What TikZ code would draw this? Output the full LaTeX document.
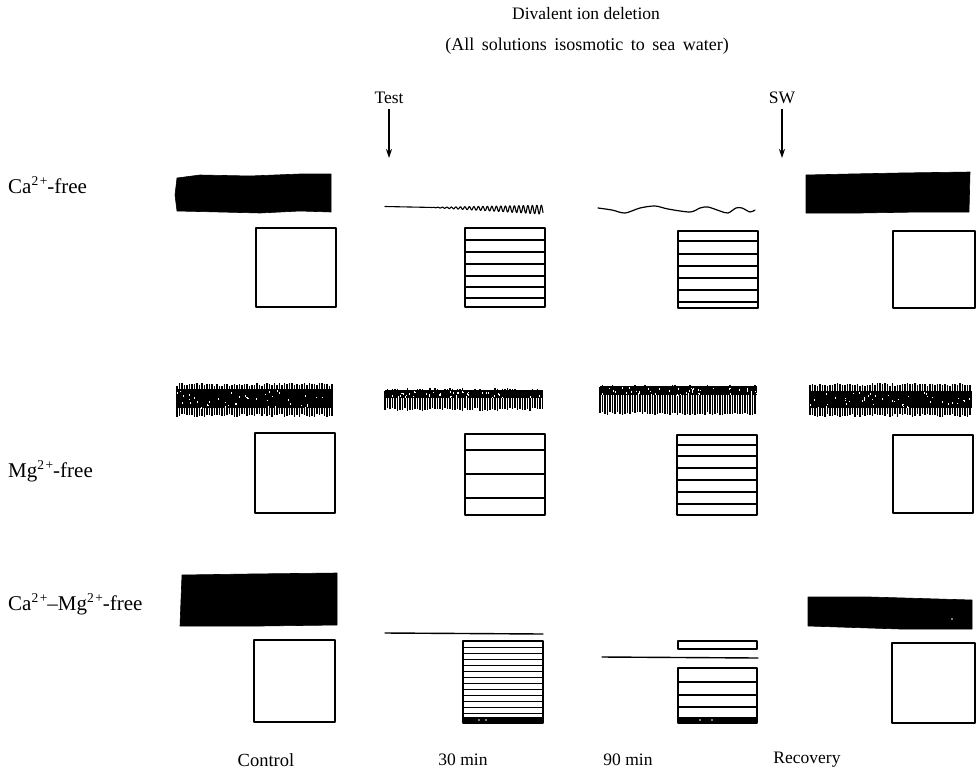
\documentclass[tikz,border=0pt]{standalone}
\usepackage{fontspec}
\setmainfont{Liberation Serif}
\usetikzlibrary{arrows.meta}
\newcommand\hatchtrace[6]{%
  \fill (#1,#5) rectangle (#2,#6);
  \pgfmathsetmacro\hxs{#1+2.5}
  \foreach \xx in {#1,\hxs,...,#2}{
    \pgfmathsetmacro\ta{#3+3*rnd}
    \pgfmathsetmacro\tb{#4-3*rnd}
    \draw[line width=1.2pt] (\xx,\ta) -- (\xx,\tb);
  }%
  \foreach \k in {1,...,45}{
    \pgfmathsetmacro\fx{#1+(#2-#1)*rnd}
    \pgfmathsetmacro\fy{#5+1+(#6-#5-2)*rnd}
    \fill[white] (\fx,\fy) rectangle ++(0.9,1.6);
  }%
}
\newcommand\ionc{\raisebox{0.4em}{\fontsize{13.5}{13.5}\selectfont 2\kern1.5pt+}}
\begin{document}
\begin{tikzpicture}[x=1pt,y=-1pt,
  lbl/.style={font=\fontsize{17.5}{20}\selectfont, inner sep=0pt},
  rowlbl/.style={font=\fontsize{21}{24}\selectfont, inner sep=0pt, anchor=west},
  frame/.style={line width=1.8pt, line join=round},
  bar/.style={line width=1.2pt},
  thinbar/.style={line width=1pt},
  ink/.style={fill=black, draw=black, line width=0.6pt, line join=round},
  tracel/.style={line width=1.2pt, line cap=round, line join=round},
  arr/.style={line width=1.2pt, -{Stealth[length=9pt,width=6pt]}}
]
\useasboundingbox (0,0) rectangle (977,777);
\pgfmathsetseed{7}

% titles
\node[lbl] (title) at (586,14) {Divalent ion deletion};
\node[lbl, font=\fontsize{18}{20}\selectfont] (sub) at (587,46) {\spaceskip=7.5pt\relax(All solutions isosmotic to sea water)};
\node[lbl] (test) at (389,98) {Test};
\node[lbl] (sw) at (782,98) {SW};
\coordinate (testend) at (389,158);
\coordinate (swend) at (782,158);
\draw[arr] ([yshift=-5pt]test.south) -- (testend);
\draw[arr] ([yshift=-5pt]sw.south) -- (swend);

% row labels
\node[rowlbl] (rca) at (8,185) {Ca\ionc-free};
\node[rowlbl] (rmg) at (8,471) {Mg\ionc-free};
\node[rowlbl] (rcamg) at (8,604) {Ca\ionc--Mg\ionc-free};

% column labels
\node[lbl, font=\fontsize{18.5}{20}\selectfont] (ccontrol) at (266,760) {Control};
\node[lbl] (c30) at (463,760) {30 min};
\node[lbl] (c90) at (628,760) {90 min};
\node[lbl] (crec) at (807,760) {Recovery};

%================ Row 1: Ca-free
\draw[ink] (177,178) -- (200,175) -- (250,176) -- (300,174) -- (331,174) -- (331,212) -- (300,211) -- (260,213) -- (220,212) -- (177,211) -- (175,195) -- cycle;
\draw[frame] (256,228) rectangle (336,307);

\draw[tracel, line width=1.1pt] plot[domain=0:158, samples=500]
  ({385+\x}, {206.5+\x*0.02 + max(0,\x-45)/113*4.5*sin(80*\x)});
\draw[frame] (465,228) rectangle (545,307);
\foreach \yy in {240,252,264,276,287,298} \draw[bar] (465,\yy) -- (545,\yy);

\draw[tracel] plot[smooth] coordinates {(598,208) (612,210) (625,213) (640,208) (655,206) (668,209) (690,212) (700,208) (708,207) (720,211) (728,213) (736,208) (742,208) (750,212) (755,210)};
\draw[frame] (678,231) rectangle (758,308);
\foreach \yy in {241,254,266,278,290,302} \draw[bar] (678,\yy) -- (758,\yy);

\draw[ink] (806,175) -- (850,174) -- (900,173) -- (970,172) -- (969,212) -- (920,212) -- (860,213) -- (806,213) -- cycle;
\draw[frame] (893,231) rectangle (975,308);

%================ Row 2: Mg-free
\hatchtrace{177}{333}{383}{417}{389}{408}
\draw[frame] (255,433) rectangle (335,513);

\hatchtrace{385}{543}{388}{411}{390}{398}
\draw[frame] (465,434) rectangle (545,515);
\foreach \yy in {450,474,498} \draw[bar] (465,\yy) -- (545,\yy);

\hatchtrace{600}{757}{385}{415}{386}{395}
\draw[frame] (677,435) rectangle (757,515);
\foreach \yy in {445,456,468,480,492,504} \draw[bar] (677,\yy) -- (757,\yy);

\hatchtrace{810}{972}{383}{417}{391}{408}
\draw[frame] (893,435) rectangle (973,513);

%================ Row 3: Ca-Mg-free
\draw[ink] (182,575) -- (250,574) -- (337,573) -- (337,625) -- (260,626) -- (180,626) -- (181,600) -- cycle;
\draw[frame] (254,640) rectangle (335,722);

\draw[tracel, line width=1.4pt] (385,633) -- (543,634);
\draw[frame] (463,641) rectangle (543,723);
\foreach \yy in {647,653,659,665,671,677,683,689,695,701,707,713} \draw[thinbar] (463,\yy) -- (543,\yy);
\fill (463,717) rectangle (543,723);
\fill[white] (479,720) circle (0.9pt) (486,720) circle (0.9pt);

\draw[frame] (678,641) rectangle (757,649);
\draw[tracel, line width=1.4pt] (602,657) -- (758,658);
\draw[frame] (678,668) rectangle (757,723);
\foreach \yy in {682,695,707} \draw[bar] (678,\yy) -- (757,\yy);
\fill (678,717) rectangle (757,723);
\fill[white] (700,720) circle (0.9pt) (712,720) circle (0.9pt);

\draw[ink] (808,597) -- (870,597) -- (972,600) -- (972,629) -- (900,629) -- (808,626) -- cycle;
\fill[white] (952,619) circle (0.9pt);
\draw[frame] (892,643) rectangle (975,723);
\end{tikzpicture}
\end{document}
